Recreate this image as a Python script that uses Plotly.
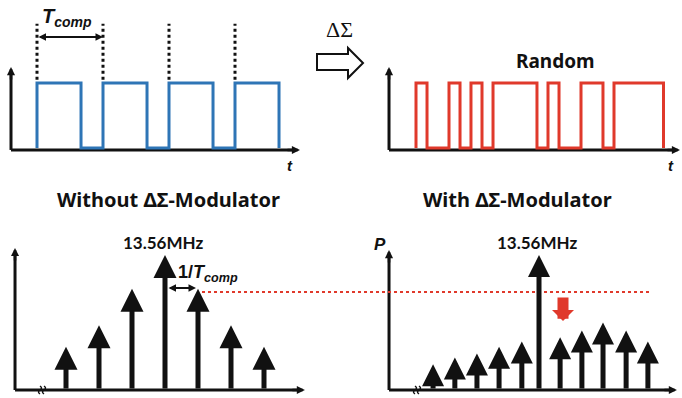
import plotly.graph_objects as go

W, H = 682, 398

# ---------------- data ----------------
# square waves (time in units of T_comp), levels low/high
blue_rise = [0, 1, 2, 3]
blue_fall = [0.667, 1.667, 2.667, 3.667]
red_rise = [0, 0.5, 0.833, 1.167, 2.0, 2.5, 3.0]
red_fall = [0.167, 0.667, 1.0, 1.833, 2.167, 2.833, 3.75]
low_level, high_level = 0, 1

# spectra (frequency offset in units of 1/T_comp, relative power)
k_without = [-3, -2, -1, 0, 1, 2, 3]
p_without = [0.32, 0.48, 0.75, 1.0, 0.75, 0.48, 0.32]
k_with = [-3.21, -2.55, -1.88, -1.21, -0.52, 0, 0.64, 1.30, 1.94, 2.64, 3.30]
p_with = [0.19, 0.24, 0.27, 0.32, 0.36, 1.0, 0.39, 0.44, 0.50, 0.44, 0.36]
ref_level = 0.726
carrier_label = "13.56MHz"

BLUE = "#2e75b6"
RED = "#e0392b"
BLACK = "#111111"

# ---------------- panel geometry (pixels) ----------------
def xd(p0, p1):
    return [p0 / W, p1 / W]

def yd(top, bottom):
    return [1 - bottom / H, 1 - top / H]

def xr(p0, p1, origin, scale):
    return [(p0 - origin) / scale, (p1 - origin) / scale]

def yr(top, bottom, origin, scale):
    return [(origin - bottom) / scale, (origin - top) / scale]

def px(x):
    return x / W

def py(y):
    return 1 - y / H

fig = go.Figure()

A = dict(xref="x", yref="y", x0=-0.394, y0=-0.03, xtip=3.985, ytip=1.246, sx=66, sy=65)
B = dict(xref="x2", yref="y2", x0=-0.409, y0=-0.03, xtip=4.0, ytip=1.246, sx=66, sy=65)
C = dict(xref="x3", yref="y3", x0=-4.545, y0=0.0, xtip=4.24, ytip=1.052, sx=33, sy=135)
D = dict(xref="x4", yref="y4", x0=-4.545, y0=0.0, xtip=4.18, ytip=1.037, sx=33, sy=135)

annotations = []
shapes = []

def axes(P):
    back_x = 5 / P["sx"]
    back_y = 5 / P["sy"]
    fig.add_trace(go.Scatter(
        x=[P["x0"], P["x0"], None, P["x0"], P["xtip"] - back_x],
        y=[P["ytip"] - back_y, P["y0"], None, P["y0"], P["y0"]],
        mode="lines", line=dict(color=BLACK, width=3),
        xaxis=P["xref"], yaxis=P["yref"], hoverinfo="skip", showlegend=False))
    for (hx, hy, tx, ty) in [(P["x0"], P["ytip"], 0, 14), (P["xtip"], P["y0"], -14, 0)]:
        annotations.append(dict(x=hx, y=hy, xref=P["xref"], yref=P["yref"],
                                ax=tx, ay=ty, showarrow=True, arrowhead=2,
                                arrowwidth=2.5, arrowsize=0.65, arrowcolor=BLACK, text=""))

def square_wave(rises, falls):
    xs, ys = [], []
    for r, f in zip(rises, falls):
        xs += [r, r, f, f]
        ys += [low_level, high_level, high_level, low_level]
    return xs, ys

# ---- panel A
axes(A)
bx, by = square_wave(blue_rise, blue_fall)
fig.add_trace(go.Scatter(x=bx, y=by, mode="lines", line=dict(color=BLUE, width=3),
                         xaxis="x", yaxis="y", hoverinfo="skip", showlegend=False))
dx, dy = [], []
for r in blue_rise:
    dx += [r, r, None]
    dy += [1.05, 1.91, None]
fig.add_trace(go.Scatter(x=dx, y=dy, mode="lines", line=dict(color=BLACK, width=3, dash="dot"),
                         xaxis="x", yaxis="y", hoverinfo="skip", showlegend=False))
annotations.append(dict(x=blue_rise[1], y=1.708, ax=blue_rise[0], ay=1.708, xref="x", yref="y",
                        axref="x", ayref="y", showarrow=True, arrowhead=2, startarrowhead=2,
                        arrowside="end+start", arrowwidth=2, arrowsize=0.75, startarrowsize=0.75,
                        arrowcolor=BLACK, text=""))

# ---- panel B
axes(B)
rx, ry = square_wave(red_rise, red_fall)
fig.add_trace(go.Scatter(x=rx, y=ry, mode="lines", line=dict(color=RED, width=3),
                         xaxis="x2", yaxis="y2", hoverinfo="skip", showlegend=False))

# ---- panel C & D spectra
axes(C)
axes(D)

def stems(P, ks, ps, size):
    for k, p in zip(ks, ps):
        annotations.append(dict(x=k, y=p, ax=k, ay=0, xref=P["xref"], yref=P["yref"],
                                axref=P["xref"], ayref=P["yref"], showarrow=True,
                                arrowhead=2, arrowwidth=5, arrowsize=size,
                                arrowcolor=BLACK, text=""))

stems(C, k_without, p_without, 0.92)
stems(D, k_with, p_with, 0.88)

# 1/Tcomp double arrow
annotations.append(dict(x=k_without[4], y=0.756, ax=k_without[3], ay=0.756, xref="x3", yref="y3",
                        axref="x3", ayref="y3", showarrow=True, arrowhead=2, startarrowhead=2,
                        arrowside="end+start", arrowwidth=2, arrowsize=0.75, startarrowsize=0.75,
                        standoff=2, startstandoff=2, arrowcolor=BLACK, text=""))

# red dotted reference level across both spectra
shapes.append(dict(type="line", xref="paper", yref="y3", x0=px(202), x1=px(652),
                   y0=ref_level, y1=ref_level, line=dict(color=RED, width=2, dash="dot")))

# red down arrow (reduction)
annotations.append(dict(x=px(563), y=py(321), xref="paper", yref="paper", ax=0, ay=-25,
                        showarrow=True, arrowhead=1, arrowwidth=11, arrowsize=0.333,
                        arrowcolor=RED, text=""))

# axis breaks (two small wiggles)
for xb in [40, 415]:
    for off in [0, 4]:
        x = xb + off
        d = (f"M{px(x):.5f},{py(386):.5f} Q{px(x + 3):.5f},{py(388):.5f} {px(x):.5f},{py(390):.5f} "
             f"Q{px(x - 3):.5f},{py(392):.5f} {px(x):.5f},{py(394):.5f}")
        shapes.append(dict(type="path", xref="paper", yref="paper", path=d,
                           line=dict(color=BLACK, width=1.5)))

# carrier labels
for P in [C, D]:
    annotations.append(dict(x=0, y=1.0, xref=P["xref"], yref=P["yref"], text="<b>" + carrier_label + "</b>",
                            showarrow=False, yanchor="bottom", yshift=0, xshift=-2,
                            font=dict(family="Lato", size=17, color=BLACK)))

# hollow ΔΣ arrow
pts = [(317, 54), (348, 54), (348, 48), (363, 63), (348, 78), (348, 70), (317, 70)]
path = "M" + " L".join(f"{px(a):.5f},{py(b):.5f}" for a, b in pts) + " Z"
shapes.append(dict(type="path", xref="paper", yref="paper", path=path,
                   line=dict(color=BLACK, width=2), fillcolor="white"))

def label(text, x, y, size, family="Lato", xanchor="center", yanchor="middle"):
    annotations.append(dict(x=px(x), y=py(y), xref="paper", yref="paper", text=text,
                            showarrow=False, xanchor=xanchor, yanchor=yanchor,
                            font=dict(family=family, size=size, color=BLACK)))

label("ΔΣ", 339, 30, 22, family="Liberation Serif")
label("<b>Random</b>", 555, 61, 19, family="Noto Sans")
label("<b>Without ΔΣ-Modulator</b>", 168, 200, 20, family="Noto Sans")
label("<b>With ΔΣ-Modulator</b>", 517, 200, 20, family="Noto Sans")
label("<b><i>T<sub>comp</sub></i></b>", 40, 18, 20, family="Liberation Sans", xanchor="left")
label("<b>1/<i>T<sub>comp</sub></i></b>", 176, 273, 18, family="Liberation Sans", xanchor="left")
label("<b><i>t</i></b>", 290, 166, 15, family="Liberation Sans")
label("<b><i>t</i></b>", 671, 166, 15, family="Liberation Sans")
label("<b><i>P</i></b>", 380, 245, 17, family="Liberation Sans")

ax_common = dict(visible=False, fixedrange=True)
fig.update_layout(
    width=W, height=H, margin=dict(l=0, r=0, t=0, b=0),
    paper_bgcolor="white", plot_bgcolor="rgba(0,0,0,0)", showlegend=False,
    xaxis=dict(domain=xd(0, 320), range=xr(0, 320, 37, 66), anchor="y", **ax_common),
    yaxis=dict(domain=yd(0, 160), range=yr(0, 160, 148, 65), anchor="x", **ax_common),
    xaxis2=dict(domain=xd(365, 682), range=xr(365, 682, 416, 66), anchor="y2", **ax_common),
    yaxis2=dict(domain=yd(0, 160), range=yr(0, 160, 148, 65), anchor="x2", **ax_common),
    xaxis3=dict(domain=xd(0, 340), range=xr(0, 340, 165, 33), anchor="y3", **ax_common),
    yaxis3=dict(domain=yd(225, 398), range=yr(225, 398, 390, 135), anchor="x3", **ax_common),
    xaxis4=dict(domain=xd(341, 682), range=xr(341, 682, 539, 33), anchor="y4", **ax_common),
    yaxis4=dict(domain=yd(225, 398), range=yr(225, 398, 390, 135), anchor="x4", **ax_common),
    annotations=annotations, shapes=shapes,
)

fig.write_html("out.html")
